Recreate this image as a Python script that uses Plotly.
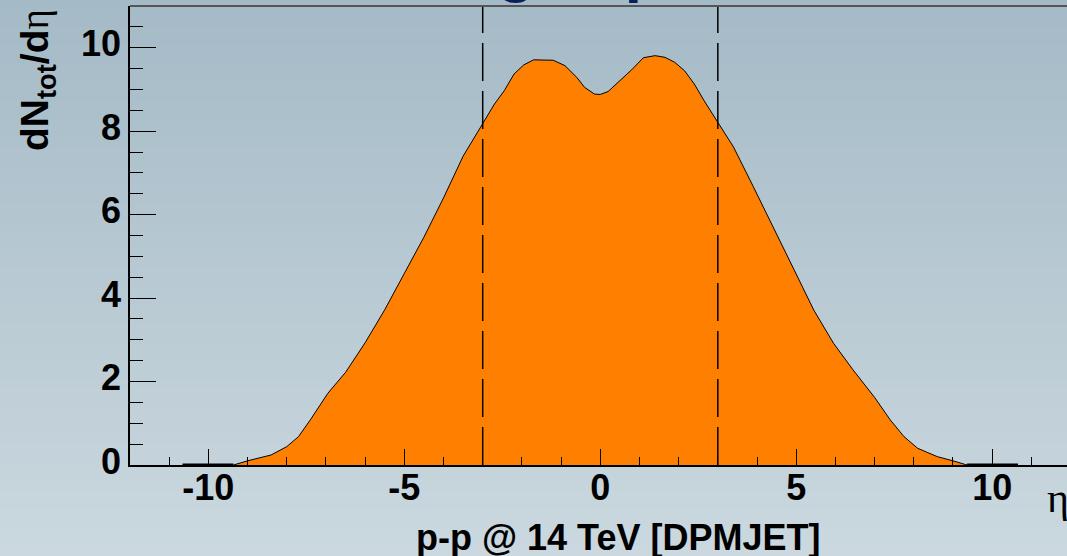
import plotly.graph_objects as go

# ---- data ----
eta = [-9.36, -9.0, -8.4, -8.0, -7.7, -7.4, -6.95, -6.5, -6.0, -5.5, -5.0, -4.5, -4.0,
       -3.5, -3.0, -2.7, -2.45, -2.2, -1.95, -1.7, -1.2, -0.9, -0.6, -0.4, -0.15, 0.0,
       0.2, 0.45, 0.8, 1.1, 1.4, 1.65, 1.9, 2.15, 2.4, 2.65, 3.0, 3.4, 3.9, 4.4, 4.95,
       5.45, 5.95, 6.45, 7.0, 7.4, 7.75, 8.1, 8.6, 9.0, 9.36]
dndeta = [0.0, 0.10, 0.24, 0.44, 0.68, 1.08, 1.72, 2.22, 2.93, 3.72, 4.59, 5.46, 6.40,
          7.40, 8.18, 8.65, 8.97, 9.37, 9.59, 9.71, 9.70, 9.57, 9.29, 9.05, 8.89, 8.88,
          8.95, 9.17, 9.47, 9.76, 9.81, 9.77, 9.65, 9.45, 9.13, 8.73, 8.22, 7.62, 6.68,
          5.74, 4.67, 3.71, 2.92, 2.28, 1.62, 1.08, 0.68, 0.40, 0.20, 0.10, 0.0]
tail_left_x = [-10.66, -9.36]
tail_right_x = [9.36, 10.66]
tail_y = [0, 0]
eta_cuts = [-3, 3]

x_tick_vals = [-10, -5, 0, 5, 10]
x_tick_text = ["-10", "-5", "0", "5", "10"]
y_tick_vals = [0, 2, 4, 6, 8, 10]
y_tick_text = ["0", "2", "4", "6", "8", "10"]

title_text = "Charged particle"
x_title = "p-p @ 14 TeV [DPMJET]"
y_title = "dN<sub>tot</sub>/d<span style=\"font-family:'Liberation Serif';font-weight:normal\">η</span>"

W, H = 1067, 556
ML, MR, MT, MB = 130, 0, 6, 91
PW, PH = W - ML - MR, H - MT - MB

BOLD = dict(family="Liberation Sans, Arial, sans-serif", size=36, color="black", weight="bold")

fig = go.Figure()

# background gradient (vertical), drawn as thin bands below everything
top_c = (164, 186, 198)
bot_c = (203, 216, 223)
nb = 60
shapes = []
y_top_paper = 1 + MT / PH
y_bot_paper = -MB / PH
for i in range(nb):
    f = (i + 0.5) / nb
    c = tuple(round(top_c[k] + (bot_c[k] - top_c[k]) * f) for k in range(3))
    y0 = y_top_paper - (y_top_paper - y_bot_paper) * i / nb
    y1 = y_top_paper - (y_top_paper - y_bot_paper) * (i + 1) / nb
    shapes.append(dict(type="rect", xref="paper", yref="paper", x0=-ML / PW - 0.01, x1=1.01,
                       y0=y1 - 0.002, y1=y0 + 0.002, fillcolor="rgb(%d,%d,%d)" % c,
                       line=dict(width=0), layer="below"))

fig.add_trace(go.Scatter(x=eta, y=dndeta, mode="lines", fill="tozeroy",
                         fillcolor="#ff8000", line=dict(color="black", width=1),
                         showlegend=False, hoverinfo="skip"))
for tx in (tail_left_x, tail_right_x):
    fig.add_trace(go.Scatter(x=tx, y=tail_y, mode="lines",
                             line=dict(color="black", width=3),
                             showlegend=False, hoverinfo="skip"))

for xc in eta_cuts:
    shapes.append(dict(type="line", xref="x", yref="paper", x0=xc, x1=xc, y0=0, y1=1,
                       line=dict(color="black", width=1.5, dash="38px,10px")))
# top frame
shapes.append(dict(type="line", xref="paper", yref="paper", x0=0, x1=1, y0=1, y1=1,
                   line=dict(color="#555555", width=2)))

annotations = [
    dict(text=title_text, xref="paper", yref="paper", x=(600 - ML) / PW, y=1 + (MT + 32) / PH,
         xanchor="center", yanchor="middle", showarrow=False,
         font=dict(family="Liberation Sans, Arial, sans-serif", size=62, color="#0b1f5c", weight="bold")),
    dict(text=x_title, xref="paper", yref="paper", x=(618 - ML) / PW, y=-(537 - (H - MB)) / PH,
         xanchor="center", yanchor="middle", showarrow=False, font=BOLD),
    dict(text="η", xref="paper", yref="paper", x=(1045 - ML) / PW, y=-(498 - (H - MB)) / PH,
         xanchor="left", yanchor="middle", showarrow=False,
         font=dict(family="Liberation Serif, Times New Roman, serif", size=42, color="black")),
    dict(text=y_title, xref="paper", yref="paper", x=-(ML - 37) / PW, y=1 - (7 - MT) / PH,
         xanchor="center", yanchor="top", textangle=-90, showarrow=False,
         font=dict(BOLD, size=39)),
]

fig.update_layout(
    width=W, height=H,
    margin=dict(l=ML, r=MR, t=MT, b=MB, pad=0),
    paper_bgcolor="rgb(184,201,210)",
    plot_bgcolor="rgba(0,0,0,0)",
    shapes=shapes,
    annotations=annotations,
    showlegend=False,
)
fig.update_xaxes(range=[-12, 11.91], showline=True, linecolor="black", linewidth=1.5,
                 showgrid=False, zeroline=False, ticks="inside", ticklen=16, tickwidth=1,
                 tickcolor="black", tickvals=x_tick_vals, ticktext=x_tick_text,
                 tickfont=BOLD, ticklabelstandoff=-10,
                 minor=dict(dtick=1, tick0=0, ticks="inside", ticklen=8, tickwidth=1,
                            tickcolor="black", showgrid=False))
fig.update_yaxes(range=[0, 11], showline=True, linecolor="black", linewidth=1.5,
                 showgrid=False, zeroline=False, ticks="inside", ticklen=26, tickwidth=1,
                 tickcolor="black", tickvals=y_tick_vals, ticktext=y_tick_text,
                 tickfont=BOLD, ticklabelshift=-4,
                 minor=dict(dtick=0.5, tick0=0, ticks="inside", ticklen=13, tickwidth=1,
                            tickcolor="black", showgrid=False))

fig.write_html("out.html")
